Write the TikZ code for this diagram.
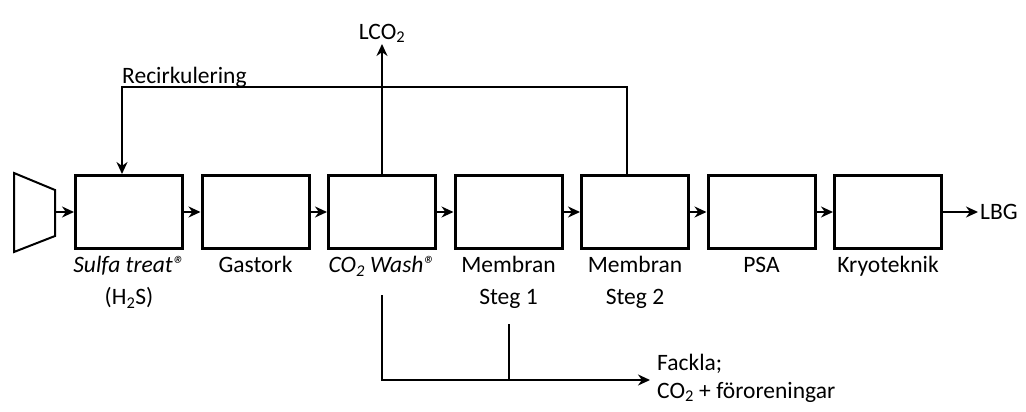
\documentclass[tikz,border=0pt]{standalone}
\usepackage{fontspec}
\setmainfont{Carlito}
\usetikzlibrary{positioning,arrows.meta}
\tikzset{
  unit/.style={draw, line width=3pt, minimum width=107pt, minimum height=73pt, inner sep=0pt},
  tag/.style={anchor=north, align=center, inner sep=0pt},
  flow/.style={line width=2pt},
}
\begin{document}
\begin{tikzpicture}[x=1pt, y=-1pt, >={Stealth[length=12pt,width=11pt]},
  every node/.style={font=\fontsize{23.5}{32}\selectfont}]
  \useasboundingbox (0,0) rectangle (1026,412);

  % process chain
  \node[unit] (sulfa) at (129,212) {};
  \node[unit, right=16.5pt of sulfa] (tork) {};
  \node[unit, right=16.5pt of tork] (wash) {};
  \node[unit, right=16.5pt of wash] (mem1) {};
  \node[unit, right=16.5pt of mem1] (mem2) {};
  \node[unit, right=16.5pt of mem2] (psa) {};
  \node[unit, right=16.5pt of psa] (kryo) {};

  % names under the units
  \node[tag] (sulfatag) at ([yshift=-6pt]sulfa.south) {\textit{Sulfa treat®}\\(H\textsubscript{2}S)};
  \node[tag] (torktag) at ([yshift=-6pt]tork.south) {Gastork};
  \node[tag] (washtag) at ([yshift=-6pt]wash.south) {\textit{CO\textsubscript{2} Wash®}};
  \node[tag] (mem1tag) at ([yshift=-6pt]mem1.south) {Membran\\Steg 1};
  \node[tag] (mem2tag) at ([yshift=-6pt]mem2.south) {Membran\\Steg 2};
  \node[tag] (psatag) at ([yshift=-7pt]psa.south) {PSA};
  \node[tag] (kryotag) at ([yshift=-6pt]kryo.south) {Kryoteknik};

  % feed
  \draw[flow] (14,173) -- (55,190) -- (55,236) -- (14,252) -- cycle;
  \coordinate (feed) at (55,212);
  \draw[flow,->] (feed) -- (sulfa);

  \foreach \a/\b in {sulfa/tork, tork/wash, wash/mem1, mem1/mem2, mem2/psa, psa/kryo}
    \draw[flow,->] (\a) -- (\b);

  % product
  \node[anchor=west, inner sep=2pt] (lbg) at ([xshift=35pt]kryo.east) {LBG};
  \draw[flow,->] (kryo) -- (lbg);

  % liquid CO2
  \coordinate (co2out) at ([yshift=130pt]wash.north);
  \draw[flow,->] (wash) -- (co2out);
  \node[anchor=south, inner sep=1pt] (lco2) at (co2out) {LCO\textsubscript{2}};

  % recirculation
  \coordinate (r1) at (627,87);
  \coordinate (r2) at (122,87);
  \draw[flow,->] (mem2.north -| r1) -- (r1) -- (r2) -- (sulfa.north -| r2);
  \node[anchor=base west, inner sep=0pt] (recirk) at ([yshift=3pt]r2) {Recirkulering};

  % off-gas to flare
  \coordinate (flare) at (650,380);
  \draw[flow,->] ([yshift=-45pt]wash.south) |- (flare);
  \draw[flow] ([yshift=-74pt]mem1.south) -- (mem1.south |- flare);
  \node[anchor=base west, align=left, inner sep=0pt, font=\fontsize{23.5}{28}\selectfont] (fackla)
    at ([xshift=7pt,yshift=-18pt]flare) {Fackla;\\CO\textsubscript{2} + föroreningar};
\end{tikzpicture}
\end{document}
